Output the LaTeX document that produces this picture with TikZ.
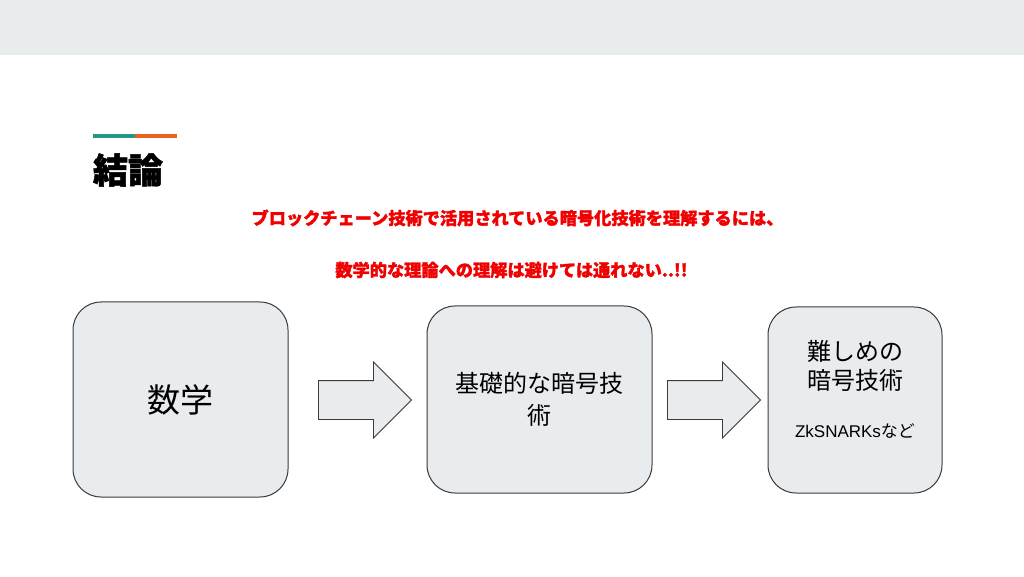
\documentclass[tikz,border=0pt]{standalone}
\usepackage{fontspec}
\setmainfont{Liberation Sans}
\newfontfamily\jpfont{Noto Sans CJK JP}
\newfontfamily\jpheavy{Noto Sans CJK JP}[BoldFeatures={FakeBold=1.5}]
\usetikzlibrary{shapes.arrows, positioning}

\definecolor{bandgrey}{HTML}{E8ECED}
\definecolor{boxgrey}{HTML}{E9ECEE}
\definecolor{edgegrey}{HTML}{3A3A3A}
\definecolor{accentteal}{RGB}{36,150,136}
\definecolor{accentorange}{RGB}{230,100,30}
\definecolor{alertred}{HTML}{F00000}

\begin{document}
\begin{tikzpicture}[x=1pt, y=1pt,
  box/.style={draw=edgegrey, line width=1pt, fill=boxgrey, rounded corners=28pt, inner sep=0pt},
  blockarrow/.style={single arrow, draw=edgegrey, fill=boxgrey, line width=0.9pt,
    inner sep=0pt, inner ysep=19pt, minimum height=93pt, anchor=tail,
    single arrow head extend=18.5pt, single arrow tip angle=90},
  redline/.style={text=alertred, font=\jpheavy\bfseries\fontsize{17.2}{19}\selectfont}]

\useasboundingbox (0,0) rectangle (1024,576);
\fill[white] (0,0) rectangle (1024,576);

% header band and title
\fill[bandgrey] (0,521) rectangle (1024,576);
\fill[accentteal] (93,438) rectangle (135,442);
\fill[accentorange] (135,438) rectangle (177,442);
\node[font=\jpheavy\bfseries\fontsize{35}{40}\selectfont] (title) at (128,406) {結論};

\node[redline] (msg1) at (517.5,358) {ブロックチェーン技術で活用されている暗号化技術を理解するには、};
\node[redline] (msg2) at (511.5,306) {数学的な理論への理解は避けては通れない..!!};

% boxes
\node[box, minimum width=215pt, minimum height=195pt,
  font=\jpfont\fontsize{33}{36}\selectfont] (math) at (180.5,176.5) {数学};
\node[box, minimum width=225pt, minimum height=187pt, align=center,
  font=\jpfont\fontsize{24}{32}\selectfont] (basic) at (539.5,176.5) {基礎的な暗号技\\術};
\node[box, minimum width=174pt, minimum height=186pt] (hard) at (855,176) {};
\node[align=center, font=\jpfont\fontsize{24}{29}\selectfont] (hardtxt) at (855,210.5)
  {難しめの\\暗号技術};
\node[font=\fontsize{17}{20}\selectfont] (hardex) at (855,145) {ZkSNARKs{\jpfont など}};

% arrows
\node[blockarrow] (arr1) at (318,176) {};
\node[blockarrow] (arr2) at (667,176) {};
\end{tikzpicture}
\end{document}
